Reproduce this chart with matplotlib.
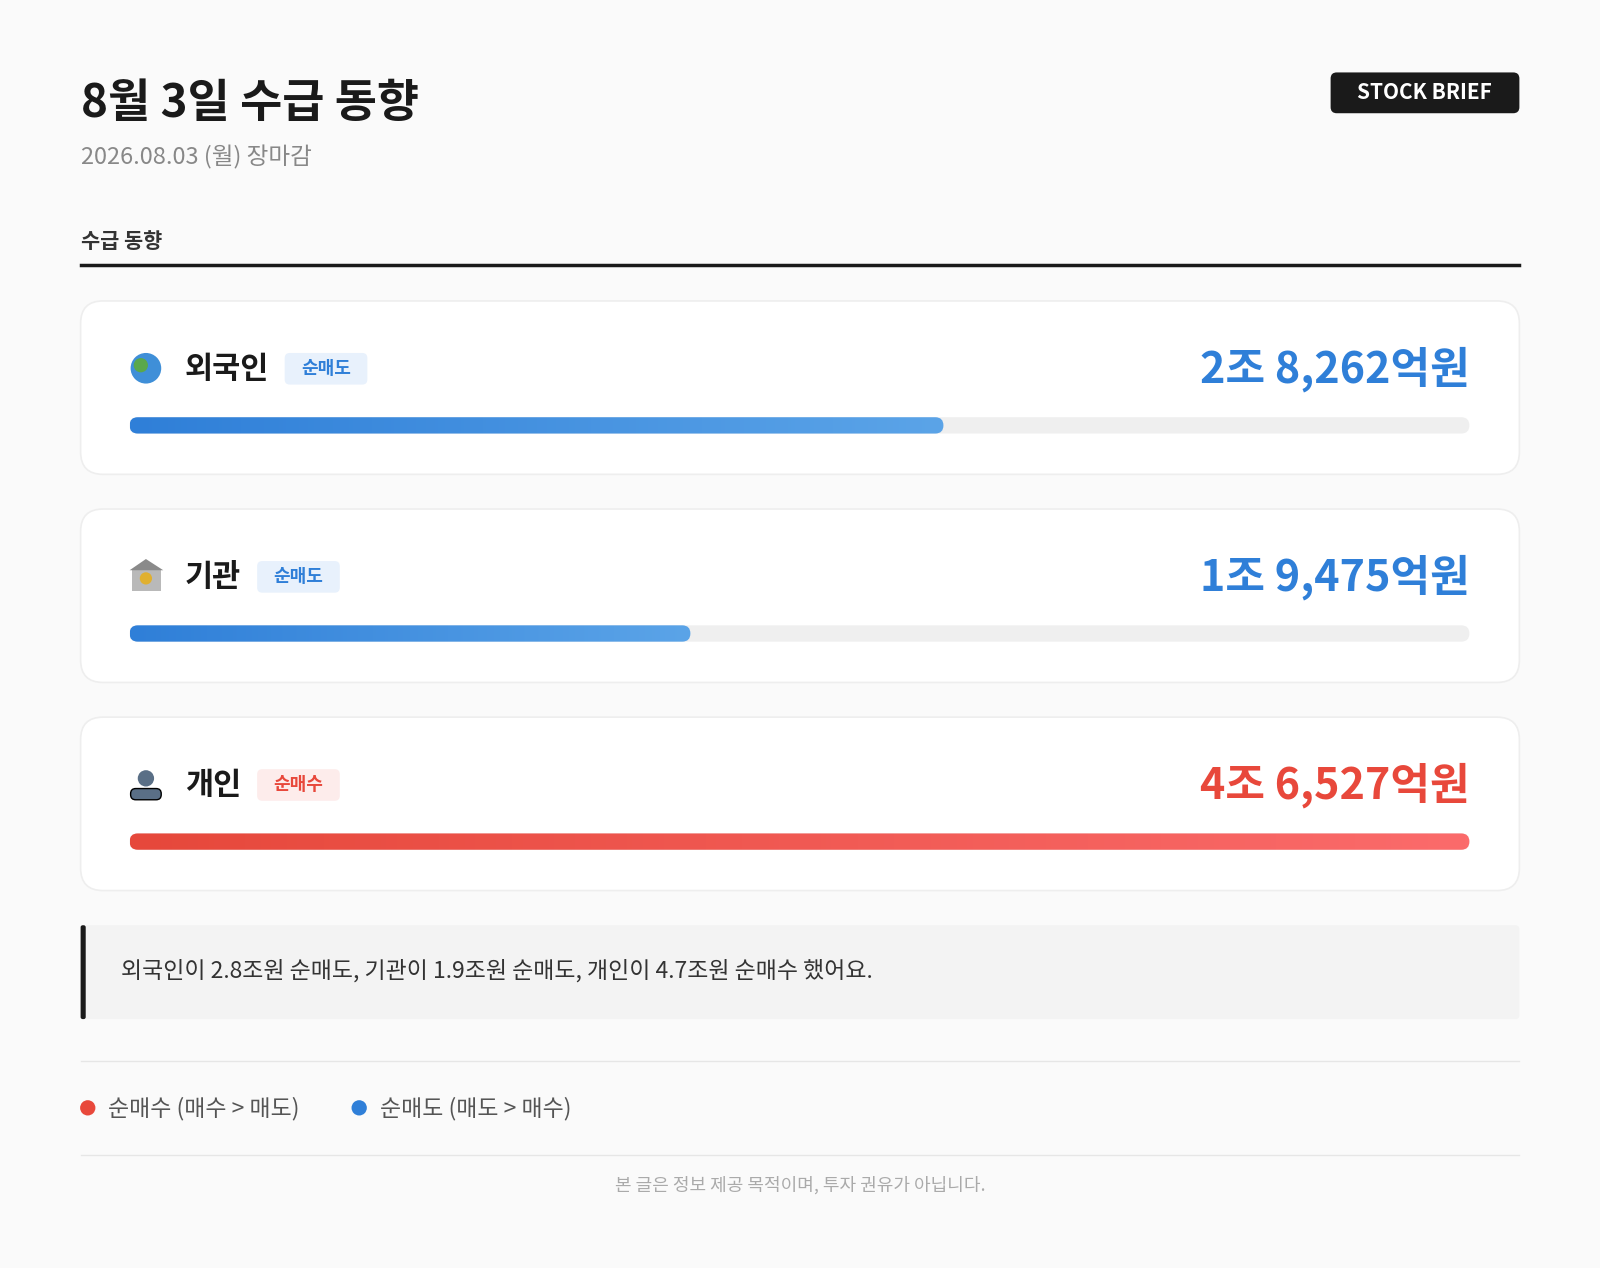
import matplotlib
matplotlib.use("Agg")
import matplotlib.pyplot as plt
import numpy as np
from matplotlib.patches import FancyBboxPatch, Circle, Rectangle
from matplotlib.colors import LinearSegmentedColormap

plt.rcParams['font.family'] = ['Noto Sans CJK KR', 'DejaVu Sans']

title = "8월 3일 수급 동향"
subtitle = "2026.08.03 (월) 장마감"
section = "수급 동향"
badge = "STOCK BRIEF"
names = ["외국인", "기관", "개인"]
tags = ["순매도", "순매도", "순매수"]
values = [28262, 19475, 46527]
labels = ["2조 8,262억원", "1조 9,475억원", "4조 6,527억원"]
summary = "외국인이 2.8조원 순매도, 기관이 1.9조원 순매도, 개인이 4.7조원 순매수 했어요."
legend_items = ["순매수 (매수 > 매도)", "순매도 (매도 > 매수)"]
footer = "본 글은 정보 제공 목적이며, 투자 권유가 아닙니다."

BLUE = "#2f7fd8"; RED = "#e8483b"
W, H = 1568, 1243
fig = plt.figure(figsize=(16, 12.68), dpi=100, facecolor="#fafafa")
ax = fig.add_axes([0, 0, 1, 1])
ax.set_xlim(0, W); ax.set_ylim(H, 0); ax.axis("off")
ax.set_facecolor("#fafafa")

ax.text(79, 102, title, fontsize=33, fontweight="heavy", color="#1a1a1a", va="center")
ax.text(79, 154, subtitle, fontsize=17, fontweight="medium", color="#888888", va="center")
ax.add_patch(FancyBboxPatch((1304, 71), 185, 40, boxstyle="round,pad=0,rounding_size=6", fc="#1a1a1a", ec="none"))
ax.text(1396, 91, badge, fontsize=15, fontweight="bold", color="white", ha="center", va="center")
ax.text(79, 237, section, fontsize=15, fontweight="bold", color="#333333", va="center")
ax.plot([79, 1489], [260, 260], color="#1a1a1a", lw=2.5)

vmax = max(values)
x0, x1 = 127, 1440
for i, (n, t, v, lab) in enumerate(zip(names, tags, values, labels)):
    top = 295 + i * 204
    ax.add_patch(FancyBboxPatch((79, top), 1410, 170, boxstyle="round,pad=0,rounding_size=22",
                                fc="white", ec="#eeeeee", lw=1.2))
    col = RED if t == "순매수" else BLUE
    cy = top + 66
    if i == 0:
        ax.add_patch(Circle((143, cy), 15, fc="#3f8fd8", ec="none"))
        ax.add_patch(Circle((138, cy - 3), 7, fc="#5aa84a", ec="none"))
    elif i == 1:
        ax.add_patch(Rectangle((129, cy - 6), 29, 20, fc="#b9b9b9", ec="none"))
        ax.add_patch(plt.Polygon([[127, cy - 6], [143, cy - 17], [160, cy - 6]], fc="#8a8a8a"))
        ax.add_patch(Circle((143, cy + 2), 6, fc="#e0b030"))
    else:
        ax.add_patch(Circle((143, cy - 6), 8, fc="#5a6f86"))
        ax.add_patch(FancyBboxPatch((128, cy + 4), 30, 11, boxstyle="round,pad=0,rounding_size=5", fc="#5a6f86"))
    ax.text(181, cy + 1, n, fontsize=22, fontweight="heavy", color="#1a1a1a", va="center")
    nx = 181 + len(n) * 27 + 17
    ax.add_patch(FancyBboxPatch((nx, cy - 15), 81, 31, boxstyle="round,pad=0,rounding_size=5",
                                fc="#fdeceb" if col == RED else "#e8f1fc", ec="none"))
    ax.text(nx + 40.5, cy, t, fontsize=13, fontweight="bold", color=col, ha="center", va="center")
    ax.text(1440, cy + 1, lab, fontsize=31, fontweight="heavy", color=col, ha="right", va="center")
    by = top + 122
    ax.add_patch(FancyBboxPatch((x0, by - 8), x1 - x0, 16, boxstyle="round,pad=0,rounding_size=8",
                                fc="#efefef", ec="none"))
    bw = (x1 - x0) * v / vmax
    clip = FancyBboxPatch((x0, by - 8), bw, 16, boxstyle="round,pad=0,rounding_size=8", fc="none", ec="none")
    ax.add_patch(clip)
    cm = LinearSegmentedColormap.from_list("g", ["#e6483b", "#fb6b6b"] if col == RED else ["#2f7fd8", "#5ba4e8"])
    im = ax.imshow(np.linspace(0, 1, 256)[None, :], cmap=cm, aspect="auto",
                   extent=(x0, x0 + bw, by + 8, by - 8), zorder=3)
    im.set_clip_path(clip)

ax.add_patch(FancyBboxPatch((79, 907), 1410, 92, boxstyle="round,pad=0,rounding_size=4", fc="#f3f3f3", ec="none"))
ax.add_patch(FancyBboxPatch((79, 907), 5, 92, boxstyle="round,pad=0,rounding_size=2", fc="#1a1a1a", ec="none"))
ax.text(119, 952, summary, fontsize=16.5, fontweight="medium", color="#333333", va="center")
ax.plot([79, 1489], [1040, 1040], color="#e6e6e6", lw=1)
ax.plot([79, 1489], [1132, 1132], color="#e6e6e6", lw=1)
for lx, c, txt in [(86, RED, legend_items[0]), (352, BLUE, legend_items[1])]:
    ax.add_patch(Circle((lx, 1086), 7.5, fc=c, ec="none"))
    ax.text(lx + 20, 1087, txt, fontsize=16.5, fontweight="medium", color="#555555", va="center")
ax.text(784, 1162, footer, fontsize=13, color="#aaaaaa", ha="center", va="center")

fig.savefig("out.png", dpi=100, facecolor=fig.get_facecolor())
